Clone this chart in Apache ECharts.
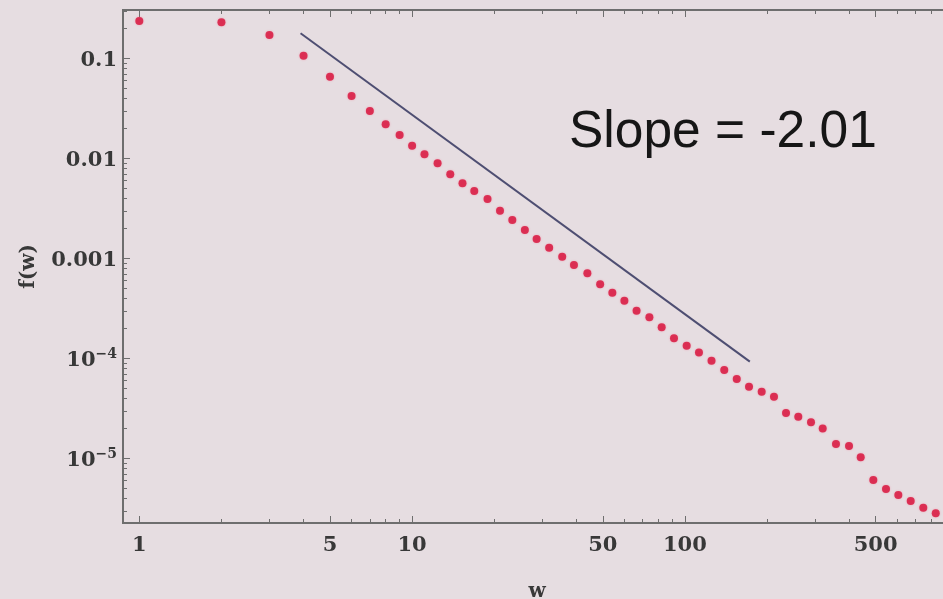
<!DOCTYPE html>
<html><head><meta charset="utf-8">
<script src="https://cdn.jsdelivr.net/npm/echarts@6/dist/echarts.min.js"></script>
<style>html,body{margin:0;padding:0;background:#e6dee2}#c{width:943px;height:599px}</style>
</head><body><div id="c"></div>
<script>
// ---- data ----
const wValues = [1, 2, 3, 4, 5, 6, 7, 8, 9, 10,
  11.1, 12.4, 13.8, 15.3, 16.9, 18.9, 21.0, 23.3, 25.9, 28.6,
  31.8, 35.5, 39.2, 43.9, 48.9, 54.2, 60.0, 66.5, 74.1, 82.2,
  91.2, 101.5, 112.6, 125.2, 139.4, 154.9, 171.8, 191.2, 212.1, 234.8,
  260.4, 289.9, 320.0, 357.9, 399.6, 441.0, 490.5, 546.0, 605.8, 672.6,
  747.9, 830.8];
const fValues = [0.237, 0.230, 0.172, 0.1067, 0.0658, 0.0422, 0.0299, 0.0220, 0.01718, 0.01343,
  0.01101, 0.00895, 0.00695, 0.00565, 0.00473, 0.00394, 0.00301, 0.00243, 0.00193, 0.00157,
  0.00128, 0.00104, 8.61e-4, 7.11e-4, 5.52e-4, 4.55e-4, 3.79e-4, 3.01e-4, 2.58e-4, 2.05e-4,
  1.59e-4, 1.34e-4, 1.15e-4, 9.51e-5, 7.67e-5, 6.24e-5, 5.22e-5, 4.66e-5, 4.15e-5, 2.85e-5,
  2.62e-5, 2.30e-5, 2.00e-5, 1.40e-5, 1.33e-5, 1.03e-5, 6.10e-6, 4.95e-6, 4.32e-6, 3.76e-6,
  3.22e-6, 2.83e-6];
const fitW = [3.9, 173];
const fitF = [0.179, 9.3e-5];
const slopeText = 'Slope = -2.01';
const xName = 'w';
const yName = 'f(w)';
const xTickValues = [1, 5, 10, 50, 100, 500];
const xTickLabels = ['1', '5', '10', '50', '100', '500'];
const xMinorTicks = [2, 3, 4, 6, 7, 8, 9, 20, 30, 40, 60, 70, 80, 90, 200, 300, 400, 600, 700, 800];
const yTickValues = [0.1, 0.01, 0.001, 1e-4, 1e-5];
const yTickLabels = ['0.1', '0.01', '0.001', '10{sup|−4}', '10{sup|−5}'];
const yMinorTicks = [3e-6, 4e-6, 5e-6, 6e-6, 7e-6, 8e-6, 9e-6,
  2e-5, 3e-5, 4e-5, 5e-5, 6e-5, 7e-5, 8e-5, 9e-5,
  2e-4, 3e-4, 4e-4, 5e-4, 6e-4, 7e-4, 8e-4, 9e-4,
  0.002, 0.003, 0.004, 0.005, 0.006, 0.007, 0.008, 0.009,
  0.02, 0.03, 0.04, 0.05, 0.06, 0.07, 0.08, 0.09, 0.2, 0.3];
const xRange = [0.8714, 883.3];
const yRange = [2.265e-6, 0.3055];

// ---- chart ----
const serif = '"DejaVu Serif"';
const labelColor = '#383838';
const axisColor = '#6e6e6e';
function nearestIdx(arr, v) {
  let best = 0, bd = Infinity;
  arr.forEach((a, i) => { const d = Math.abs(Math.log10(a) - Math.log10(v)); if (d < bd) { bd = d; best = i; } });
  return best;
}
function xAxisDef(pos, ticks, len, withLabels) {
  return {
    type: 'log', logBase: 10, position: pos, offset: 0,
    min: xRange[0], max: xRange[1],
    axisLine: { show: true, lineStyle: { color: axisColor, width: 2 } },
    axisTick: { show: true, inside: true, length: len, customValues: ticks, lineStyle: { color: axisColor, width: 1 } },
    axisLabel: withLabels ? {
      show: true, customValues: xTickValues, margin: 12,
      formatter: v => xTickLabels[nearestIdx(xTickValues, v)],
      fontFamily: serif, fontWeight: 'bold', fontSize: 21, color: labelColor
    } : { show: false },
    splitLine: { show: false }, minorTick: { show: false }, minorSplitLine: { show: false },
    name: withLabels ? xName : '', nameLocation: 'middle', nameGap: 59,
    nameTextStyle: { fontFamily: serif, fontWeight: 'bold', fontSize: 20, color: labelColor, padding: [0, 0, 0, 8] }
  };
}
function yAxisDef(ticks, len, withLabels) {
  return {
    type: 'log', logBase: 10, position: 'left', offset: 0,
    min: yRange[0], max: yRange[1],
    axisLine: { show: true, lineStyle: { color: axisColor, width: 2 } },
    axisTick: { show: true, inside: true, length: len, customValues: ticks, lineStyle: { color: axisColor, width: 1 } },
    axisLabel: withLabels ? {
      show: true, customValues: yTickValues, margin: 6, padding: [4, 0, 0, 0],
      formatter: v => yTickLabels[nearestIdx(yTickValues, v)],
      fontFamily: serif, fontWeight: 'bold', fontSize: 21, color: labelColor,
      rich: { sup: { fontFamily: serif, fontWeight: 'bold', fontSize: 14, color: labelColor, padding: [0, 0, 12, 0] } }
    } : { show: false },
    splitLine: { show: false }, minorTick: { show: false }, minorSplitLine: { show: false },
    name: withLabels ? yName : '', nameLocation: 'middle', nameGap: 84, nameRotate: 90,
    nameTextStyle: { fontFamily: serif, fontWeight: 'bold', fontSize: 20, color: labelColor }
  };
}
const chart = echarts.init(document.getElementById('c'), null, { renderer: 'canvas' });
chart.setOption({
  backgroundColor: '#e6dde1',
  animation: false,
  grid: { left: 123, top: 10, right: 0, bottom: 76, containLabel: false, outerBoundsMode: 'none' },
  xAxis: [
    xAxisDef('bottom', xTickValues, 7, true),
    xAxisDef('bottom', xMinorTicks, 4, false),
    xAxisDef('top', xTickValues, 7, false),
    xAxisDef('top', xMinorTicks, 4, false)
  ],
  yAxis: [
    yAxisDef(yTickValues, 7, true),
    yAxisDef(yMinorTicks, 4, false)
  ],
  graphic: [{
    type: 'text', left: 569, top: 107, z: 100,
    style: { text: slopeText, fontFamily: '"Liberation Sans"', fontSize: 51.5, fill: '#161616' }
  }],
  series: [
    {
      type: 'line', xAxisIndex: 0, yAxisIndex: 0,
      data: fitW.map((w, i) => [w, fitF[i]]),
      showSymbol: false, symbol: 'none',
      lineStyle: { color: '#4e4e72', width: 2 }, z: 2
    },
    {
      type: 'scatter', xAxisIndex: 0, yAxisIndex: 0,
      data: wValues.map((w, i) => [w, fValues[i]]),
      symbol: 'circle', symbolSize: 8,
      itemStyle: { color: '#d6103a', shadowBlur: 2, shadowColor: 'rgba(255,70,110,0.5)' }, z: 3
    }
  ]
});
</script></body></html>
